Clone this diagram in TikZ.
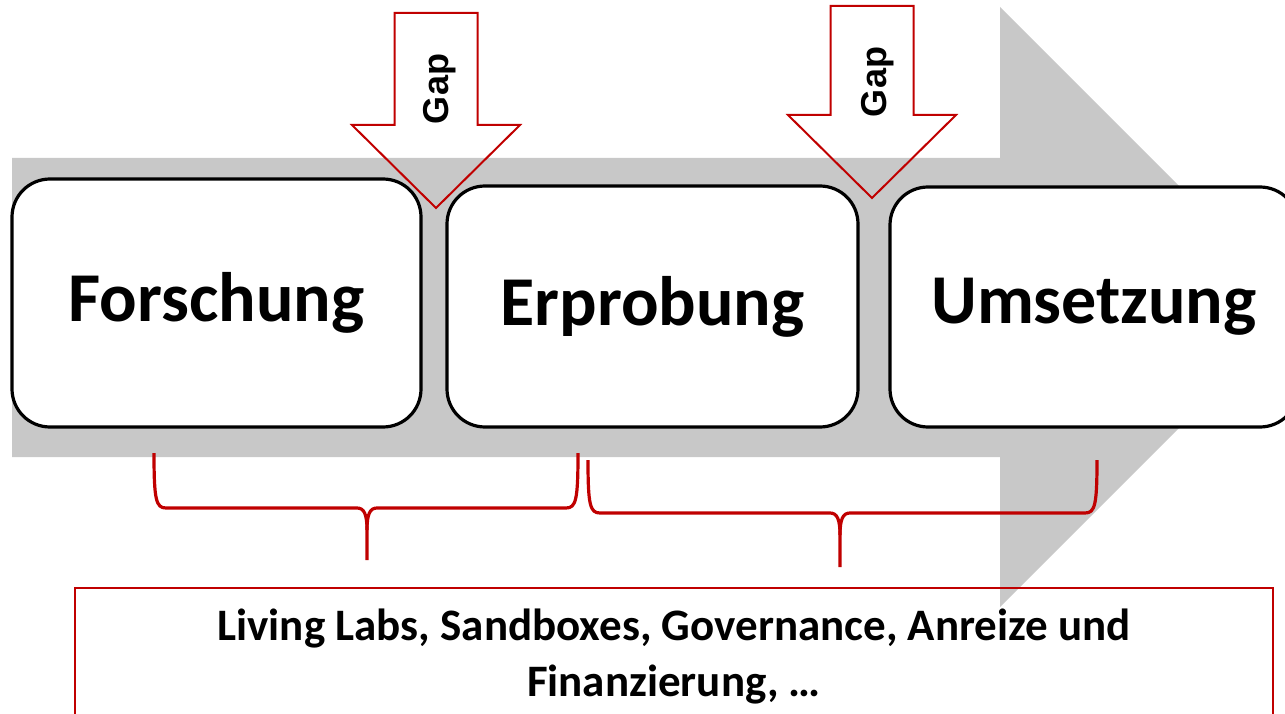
\documentclass[tikz,border=0pt]{standalone}
\usepackage{fontspec}
\setmainfont{Carlito}
\newfontfamily\gapfont{Liberation Sans}
\usepackage{tikz}
\usetikzlibrary{positioning}
\definecolor{arrowgray}{HTML}{C8C8C8}
\definecolor{gapred}{HTML}{C00000}

\begin{document}
\begin{tikzpicture}[x=1pt, y=-1pt,
  stage/.style={draw=black, line width=3.2pt, fill=white, rounded corners=38pt, font=\fontsize{70}{84}\selectfont\bfseries},
  gaparrow/.style={draw=gapred, line width=2pt, line join=miter},
  gaplabel/.style={font=\gapfont\fontsize{36}{43}\selectfont\bfseries, rotate=90},
  bracket/.style={draw=gapred, line width=3.2pt}]
  \useasboundingbox (0,0) rectangle (1285,714);

  % Big gray process arrow
  \fill[arrowgray] (12,158) -- (1000,158) -- (1000,7) -- (1300,307) -- (1000,607) -- (1000,457) -- (12,457) -- cycle;

  % Braces under the stages
  \foreach \xa/\xm/\xb/\ya/\yh/\yb in {154/367/578/453/508/560, 588/840/1097/460/513/567} {
    \draw[bracket] (\xa,\ya) .. controls (\xa,\yh-8) and (\xa+2,\yh) .. (\xa+12,\yh) -- (\xm-10,\yh)
      .. controls (\xm-3,\yh) and (\xm,\yh+6) .. (\xm,\yh+22) -- (\xm,\yb);
    \draw[bracket] (\xm,\yh+22) .. controls (\xm,\yh+6) and (\xm+3,\yh) .. (\xm+10,\yh) -- (\xb-12,\yh)
      .. controls (\xb-2,\yh) and (\xb,\yh-8) .. (\xb,\ya);
  }

  % Stages
  \node[stage, minimum width=409pt, minimum height=248pt] (forschung) at (216.5,303) {Forschung};
  \node[stage, minimum width=411pt, minimum height=241pt] (erprobung) at (652.5,306.5) {Erprobung};
  \node[stage, minimum width=408pt, minimum height=240pt] (umsetzung) at (1094,307) {Umsetzung};

  % Gap arrows
  \foreach \tx/\ty/\top in {436/208/13, 872/198/6} {
    \draw[gaparrow] (\tx-41.5,\top) -- (\tx+41.5,\top) -- (\tx+41.5,\ty-83) -- (\tx+84,\ty-83)
      -- (\tx,\ty) -- (\tx-84,\ty-83) -- (\tx-41.5,\ty-83) -- cycle;
  }
  \node[gaplabel] (gap1) at (440,89) {Gap};
  \node[gaplabel] (gap2) at (878,82) {Gap};

  % Measures
  \node[draw=gapred, line width=2pt, anchor=north, minimum width=1198pt, inner ysep=21pt, align=center,
    font=\fontsize{45}{56}\selectfont\bfseries] (massnahmen) at (674,587)
    {Living Labs, Sandboxes, Governance, Anreize und\\Finanzierung, …};
\end{tikzpicture}
\end{document}
